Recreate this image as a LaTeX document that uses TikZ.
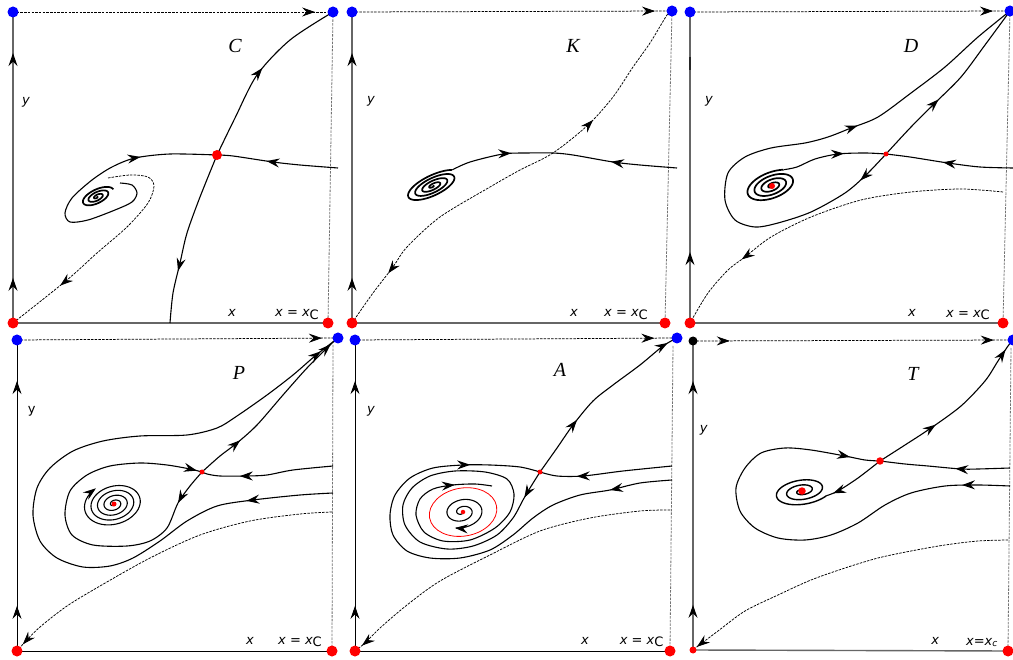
\documentclass[tikz,border=0pt]{standalone}
\usepackage{fontspec}
\newfontfamily\labfont{DejaVu Sans}
\newfontfamily\letfont{Liberation Serif}
\usetikzlibrary{arrows.meta,decorations.markings}
\tikzset{
 stk/.tip={Stealth[length=13pt,width=9pt,inset=4.5pt]},
 fwd/.style={postaction={decorate,decoration={markings,mark=at position #1 with {\arrow[black]{stk}}}}},
 bwd/.style={postaction={decorate,decoration={markings,mark=at position #1 with {\arrowreversed[black]{stk}}}}},
 flow/.style={line width=1.1pt,black},
 sepx/.style={line width=0.75pt,black,dash pattern=on 2.5pt off 1.2pt},
 frameline/.style={line width=0.8pt,black!55,dash pattern=on 2.5pt off 1.2pt},
 topline/.style={line width=0.75pt,black,dash pattern=on 2.5pt off 1.2pt},
 axisg/.style={line width=1.4pt,black!60},
 axisb/.style={line width=0.8pt,black},
 spir/.style={line width=1.7pt,black},
 bdot/.style={circle,fill=blue,inner sep=0pt,minimum size=11pt},
 rdot/.style={circle,fill=red,inner sep=0pt,minimum size=11pt},
 sdot/.style={circle,fill=red,inner sep=0pt,minimum size=5pt},
 lab/.style={font=\labfont\itshape\fontsize{13}{15}\selectfont,inner sep=0pt,anchor=base},
 letr/.style={font=\letfont\itshape\fontsize{20}{22}\selectfont,inner sep=0pt,anchor=base},
}
\newcommand{\spiralat}[8][]{%
  \begin{scope}[shift={(#3,#4)},rotate=#5]
    \draw[#1] plot[smooth,domain=0:#8,samples=260,variable=\t] ({#6*\t/#8*cos(360*\t)},{#7*\t/#8*sin(360*\t)});
    \coordinate (#2) at ({#6*cos(360*#8)},{#7*sin(360*#8)});
  \end{scope}}
\newcommand{\xcC}{x = x\raisebox{-0.35ex}{\upshape C}}
\begin{document}
\begin{tikzpicture}[x=1pt,y=-1pt]
\fill[white] (0,0) rectangle (1013,660);
\useasboundingbox (0,0) rectangle (1013,660);
%%%%%%%%%%%%%%%% Panel C
\coordinate (cTL) at (13,12); \coordinate (cTR) at (333,12);
\coordinate (cBL) at (13,323); \coordinate (cBR) at (328,323);
\coordinate (cS) at (217,155);
\draw[axisg,fwd=0.145,fwd=0.868] (cBL) -- (cTL);
\draw[axisg] (cBL) -- (cBR);
\draw[topline,fwd=0.944] (cTL) -- (cTR);
\draw[frameline] (cTR) -- (cBR);
\draw[flow,fwd=0.52] plot[smooth] coordinates {(cS) (235,118) (257,75) (290,40) (cTR)};
\coordinate (cE1) at (170,323);
\draw[flow,fwd=0.70] plot[smooth] coordinates {(cS) (200,197) (187,233) (180,263) (173,293) (cE1)};
\coordinate (cE2) at (338,168);
\draw[flow,fwd=0.59] plot[smooth] coordinates {(cE2) (300,165) (273,162) (233,156) (cS)};
\coordinate (cE3) at (120,183);
\draw[flow,fwd=0.73] plot[smooth] coordinates {(cE3) (132,185) (137,193) (132,202) (115,210) (88,220) (70,222) (65,213) (72,198) (92,180) (112,167) (135,158) (170,154) (cS)};
\coordinate (cE4) at (108,178);
\draw[sepx,fwd=0.76] plot[smooth] coordinates {(cE4) (130,175) (148,177) (154,186) (148,203) (127,227) (97,253) (67,280) (cBL)};
\spiralat[spir]{cSp}{97}{197}{25}{18}{8}{3}
\node[letr] (cL) at (235,52.7) {C};
\node[lab] (cY) at (26,105) {y};
\node[lab] (cX) at (232,316.7) {x};
\node[lab] (cXc) at (297,316.7) {\xcC};
%%%%%%%%%%%%%%%% Panel K
\coordinate (kTL) at (352,12); \coordinate (kTR) at (672,11);
\coordinate (kBL) at (352,323); \coordinate (kBR) at (665,323);
\draw[axisg,fwd=0.145,fwd=0.868] (kBL) -- (kTL);
\draw[axisg] (kBL) -- (kBR);
\draw[topline,fwd=0.947] (kTL) -- (kTR);
\draw[frameline] (kTR) -- (kBR);
\draw[sepx,bwd=0.135,fwd=0.703] plot[smooth] coordinates {(kBL) (373,293) (393,267) (407,247) (440,217) (490,187) (520,170) (553,153) (588,125) (613,97) (633,67) (650,43) (667,15) (kTR)};
\spiralat[spir]{kSp}{433}{186}{25}{30}{11}{3.9}
\coordinate (kE) at (677,168);
\draw[flow,fwd=0.27,bwd=0.71] plot[smooth] coordinates {(kSp) (470,162) (503,154) (527,153) (553,153) (573,155) (613,162) (640,165) (kE)};
\node[letr] (kL) at (573,52.7) {K};
\node[lab] (kY) at (371,103.5) {y};
\node[lab] (kX) at (574,316.7) {x};
\node[lab] (kXc) at (626,316.7) {\xcC};
%%%%%%%%%%%%%%%% Panel D
\coordinate (dTL) at (690,12); \coordinate (dTR) at (1010,11);
\coordinate (dBL) at (690,323); \coordinate (dBR) at (1003,323);
\coordinate (dS) at (886,154); \coordinate (dF) at (772,186);
\draw[axisg,fwd=0.228] (dBL) -- (dTL);
\draw[line width=1.5pt,black!85] (690,57) -- (690,70);
\draw[axisg] (dBL) -- (dBR);
\draw[topline,fwd=0.947] (dTL) -- (dTR);
\draw[frameline] (dTR) -- (dBR);
\coordinate (dE1) at (1013,168);
\draw[flow,fwd=0.55] plot[smooth] coordinates {(dE1) (980,167) (948,163) (910,157) (dS)};
\spiralat[spir]{dSp}{772}{186}{20}{28}{14}{3.85}
\draw[flow,fwd=0.6] plot[smooth] coordinates {(dSp) (797,167) (815,159) (838,154) (865,153) (dS)};
\draw[flow,fwd=0.40] plot[smooth] coordinates {(dS) (911,127) (935,103) (961,77) (985,45) (dTR)};
\draw[flow,fwd=0.066,fwd=0.657] plot[smooth] coordinates {(dS) (866,175) (845,193) (811,212) (778,223) (755,227) (735,220) (725,200) (728,173) (745,157) (771,148) (805,143) (828,137) (851,128) (878,117) (911,93) (945,67) (978,37) (dTR)};
\coordinate (dE2) at (1003,192);
\draw[sepx,fwd=0.77] plot[smooth] coordinates {(dE2) (961,189) (911,192) (861,200) (811,217) (771,237) (745,257) (728,270) (708,293) (dBL)};
\node[letr] (dL) at (911,52.3) {D};
\node[lab] (dY) at (709,103.5) {y};
\node[lab] (dX) at (912,316.7) {x};
\node[lab] (dXc) at (968,317.3) {\xcC};
%%%%%%%%%%%%%%%% Panel P
\coordinate (pTL) at (17,340); \coordinate (pTR) at (338,338);
\coordinate (pBL) at (17,651); \coordinate (pBR) at (332,651);
\coordinate (pS) at (202,472); \coordinate (pF) at (114,504);
\coordinate (pFr) at (333,345);
\draw[axisb,fwd=0.145,fwd=0.868] (pBL) -- (pTL);
\draw[axisb] (pBL) -- (pBR);
\draw[topline,fwd=0.95] (pTL) -- (pTR);
\draw[frameline] (pFr) -- (pBR);
\draw[flow,fwd=0.11,fwd=0.985] plot[smooth] coordinates {(pS) (190,486) (178,503) (167,528) (150,541) (127,546) (93,545) (72,535) (65,515) (70,491) (87,475) (110,466) (140,463) (167,465) (190,469) (pS)};
\draw[flow,fwd=0.26,fwd=0.95] plot[smooth] coordinates {(pS) (220,456) (237,443) (257,425) (283,395) (307,368) (330,345) (pTR)};
\coordinate (pE1) at (333,493);
\draw[flow,fwd=0.12,fwd=0.97] plot[smooth] coordinates {(pE1) (300,495) (253,500) (217,506) (187,521) (160,541) (133,558) (110,566) (83,567) (57,558) (40,541) (33,515) (37,488) (50,468) (73,451) (103,441) (140,436) (187,435) (217,428) (237,416) (267,395) (293,375) (315,356) (pTR)};
\coordinate (pE2) at (333,466);
\draw[flow,fwd=0.71] plot[smooth] coordinates {(pE2) (293,470) (267,475) (247,476) (220,476) (207,474) (pS)};
\coordinate (pE3) at (332,512);
\draw[sepx,fwd=0.975] plot[smooth] coordinates {(pE3) (300,514) (250,521) (200,535) (150,558) (100,586) (67,606) (40,627) (25,642) (pBL)};
\spiralat[flow,-{stk}]{pSp}{114}{504}{15}{31}{22}{4.68}
\node[letr] (pL) at (239,379.7) {P};
\node[lab] (pY) at (31.7,413.6) {\upshape y};
\node[lab] (pX) at (250,644) {x};
\node[lab] (pXc) at (300,644.5) {\xcC};
%%%%%%%%%%%%%%%% Panel A
\coordinate (aTL) at (355,340); \coordinate (aTR) at (677,338);
\coordinate (aBL) at (355,651); \coordinate (aBR) at (670,651);
\coordinate (aS) at (540,472); \coordinate (aF) at (463,512);
\coordinate (aFr) at (673,346);
\draw[axisb,fwd=0.145,fwd=0.868] (aBL) -- (aTL);
\draw[axisb] (aBL) -- (aBR);
\draw[topline,fwd=0.93] (aTL) -- (aTR);
\draw[frameline] (aFr) -- (aBR);
\draw[flow,fwd=0.33,fwd=0.946] plot[smooth] coordinates {(aS) (557,448) (573,425) (593,401) (613,385) (640,365) (663,346) (aTR)};
\coordinate (aE1) at (672,466);
\draw[flow,fwd=0.72] plot[smooth] coordinates {(aE1) (623,471) (583,476) (557,476) (aS)};
\coordinate (aE2) at (672,480);
\draw[flow,fwd=0.125,fwd=0.86] plot[smooth] coordinates {(aE2) (640,483) (610,490) (580,495) (553,505) (533,518) (513,535) (490,550) (460,558) (430,558) (407,551) (393,535) (390,515) (395,495) (410,478) (433,468) (463,465) (490,465) (520,467) (aS)};
\draw[flow,fwd=0.053,fwd=0.934] plot[smooth] coordinates {(aS) (530,488) (523,500) (513,518) (497,535) (473,546) (447,549) (420,542) (405,525) (403,505) (412,488) (430,476) (455,471) (485,472) (507,479) (514,494) (510,512) (495,528) (470,540) (443,541) (424,532) (416,515) (420,499) (433,489) (453,485) (475,484) (492,486)};
\coordinate (aE3) at (670,510);
\draw[sepx,fwd=0.975] plot[smooth] coordinates {(aE3) (640,511) (590,518) (540,531) (490,555) (440,581) (407,605) (380,628) (365,643) (aBL)};
\draw[red,line width=0.8pt,rotate around={10:(aF)}] (aF) ellipse [x radius=34pt,y radius=24pt];
\spiralat[flow,-{stk}]{aSp}{462}{512}{10}{23}{16}{2.32}
\node[letr] (aL) at (560,376.3) {A};
\node[lab] (aY) at (371,413.6) {y};
\node[lab] (aX) at (585,644) {x};
\node[lab] (aXc) at (641.7,644.5) {\xcC};
%%%%%%%%%%%%%%%% Panel T
\coordinate (tTL) at (693,341); \coordinate (tTR) at (1013,340);
\coordinate (tBL) at (693,650); \coordinate (tBR) at (1008,651);
\coordinate (tS) at (880,461); \coordinate (tF) at (802,491);
\coordinate (tFr) at (1011,348);
\draw[axisg,fwd=0.146,fwd=0.87] (tBL) -- (tTL);
\draw[axisg] (tBL) -- (tBR);
\draw[topline,fwd=0.115,fwd=0.94] (tTL) -- (tTR);
\draw[frameline] (tFr) -- (tBR);
\draw[flow,fwd=0.365,fwd=0.933] plot[smooth] coordinates {(tS) (905,445) (931,428) (961,406) (985,381) (998,361) (1008,346) (tTR)};
\spiralat[line width=1.4pt,black]{tSp}{802}{491}{10}{30}{-14}{2.89}
\draw[flow,fwd=0.89] plot[smooth] coordinates {(tS) (858,478) (838,491) (tSp)};
\coordinate (tE1) at (1010,468);
\draw[flow,fwd=0.42] plot[smooth] coordinates {(tE1) (978,469) (961,469) (928,466) (905,464) (tS)};
\coordinate (tE2) at (1010,486);
\draw[flow,fwd=0.10,fwd=0.937] plot[smooth] coordinates {(tE2) (978,485) (945,486) (911,493) (885,505) (858,523) (831,535) (805,540) (778,538) (755,528) (740,511) (736,488) (745,468) (761,453) (785,448) (811,450) (845,456) (865,460) (tS)};
\coordinate (tE3) at (1008,540);
\draw[sepx,fwd=0.985] plot[smooth] coordinates {(tE3) (978,541) (945,545) (911,551) (878,558) (845,568) (811,580) (778,595) (745,611) (718,631) (698,646) (tBL)};
\node[letr] (tL) at (913,380.7) {T};
\node[lab] (tY) at (703.7,433) {y};
\node[lab] (tX) at (935.3,644.7) {x};
\node[lab] (tXc) at (982,645) {x=x\textsubscript{c}};
%%%%%%%%%%%%%%%% dots
\node[bdot] (cTLd) at (cTL) {}; \node[bdot] (cTRd) at (cTR) {};
\node[rdot] (cBLd) at (cBL) {}; \node[rdot] (cBRd) at (cBR) {};
\node[rdot,minimum size=10pt] (cSd) at (cS) {};
\node[bdot] (kTLd) at (kTL) {}; \node[bdot] (kTRd) at (kTR) {};
\node[rdot] (kBLd) at (kBL) {}; \node[rdot] (kBRd) at (kBR) {};
\node[bdot] (dTLd) at (dTL) {}; \node[bdot] (dTRd) at (dTR) {};
\node[rdot] (dBLd) at (dBL) {}; \node[rdot] (dBRd) at (dBR) {};
\node[sdot] (dSd) at (dS) {}; \node[sdot,minimum size=6pt] (dFd) at (dF) {};
\node[bdot] (pTLd) at (pTL) {}; \node[bdot] (pTRd) at (pTR) {};
\node[rdot] (pBLd) at (pBL) {}; \node[rdot] (pBRd) at (pBR) {};
\node[sdot] (pSd) at (pS) {}; \node[sdot] (pFd) at (pF) {};
\node[bdot] (aTLd) at (aTL) {}; \node[bdot] (aTRd) at (aTR) {};
\node[rdot] (aBLd) at (aBL) {}; \node[rdot] (aBRd) at (aBR) {};
\node[sdot] (aSd) at (aS) {}; \node[sdot,minimum size=4.5pt] (aFd) at (aF) {};
\node[circle,fill=black,inner sep=0pt,minimum size=9pt] (tTLd) at (tTL) {};
\node[bdot] (tTRd) at (tTR) {};
\node[rdot,minimum size=7pt] (tBLd) at (tBL) {}; \node[rdot] (tBRd) at (tBR) {};
\node[sdot,minimum size=7.5pt] (tSd) at (tS) {}; \node[sdot,minimum size=7.5pt] (tFd) at (tF) {};
\end{tikzpicture}
\end{document}
